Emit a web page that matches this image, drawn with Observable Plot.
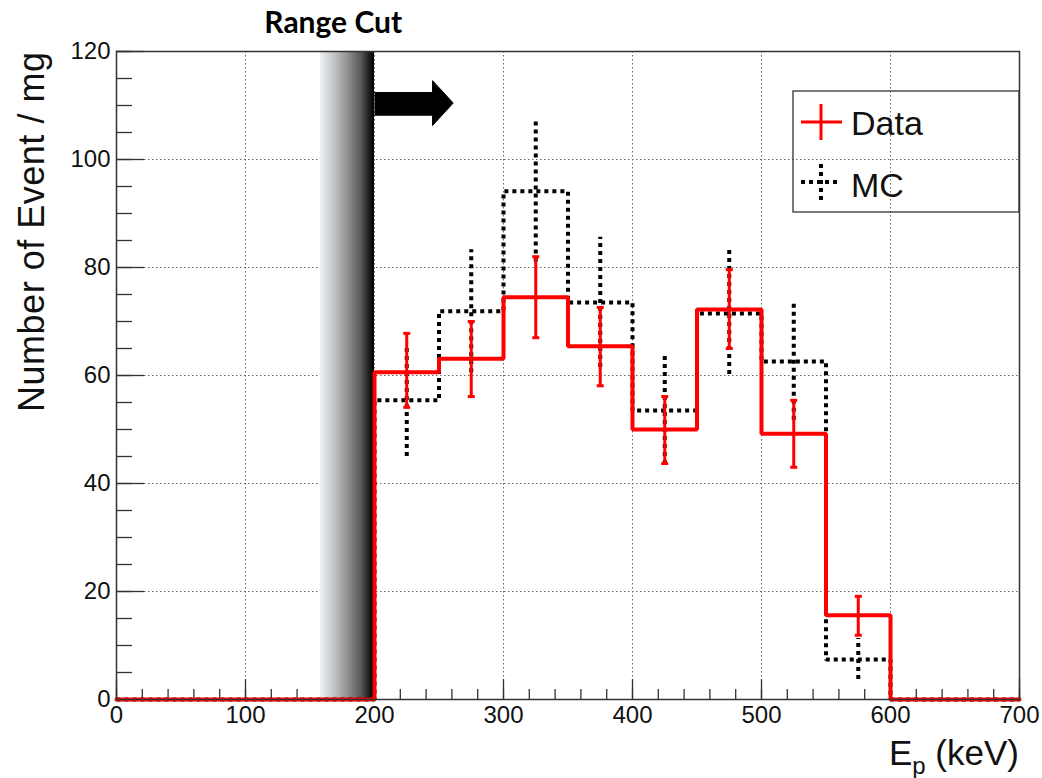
<!DOCTYPE html>
<html><head><meta charset="utf-8">
<script src="https://cdn.jsdelivr.net/npm/d3@7"></script>
<script src="https://cdn.jsdelivr.net/npm/@observablehq/plot@0.6"></script>
<style>
html,body{margin:0;padding:0;background:#fff;}
#chart{position:relative;width:1042px;height:778px;}
</style></head><body><div id="chart"></div>
<script>
// ---- data ----
const binLow = [0, 50, 100, 150, 200, 250, 300, 350, 400, 450, 500, 550, 600, 650];
const binWidth = 50;
const dataValues = [0, 0, 0, 0, 60.6, 63.1, 74.5, 65.4, 50.0, 72.2, 49.2, 15.6, 0, 0];
const dataErrLow  = [null, null, null, null, 54.1, 56.1, 67.0, 58.1, 43.7, 65.0, 43.0, 11.9, null, null];
const dataErrHigh = [null, null, null, null, 67.8, 70.0, 82.0, 72.6, 56.1, 79.6, 55.4, 19.1, null, null];
const mcValues  = [0, 0, 0, 0, 55.4, 71.9, 94.1, 73.5, 53.5, 71.5, 62.6, 7.4, 0, 0];
const mcErrLow  = [null, null, null, null, 45.0, 60.5, 81.0, 61.5, 43.5, 60.2, 51.7, 3.7, null, null];
const mcErrHigh = [null, null, null, null, 65.8, 83.3, 107.2, 85.6, 63.5, 83.3, 73.5, 11.3, null, null];
const xTicks = [0, 100, 200, 300, 400, 500, 600, 700];
const xMinorTicks = d3.range(0, 701, 20);
const yTicks = [0, 20, 40, 60, 80, 100, 120];
const yMinorTicks = d3.range(0, 121, 5);
// annotation (range cut)
const cutBand = [{x1: 158, x2: 200}];
const cutLabel = [{x: 168, text: "Range Cut"}];
const arrowStart = 200, arrowHeadBase = 245, arrowTip = 261;
const arrowShaft = [108.2, 112.4];
const arrowHead = [106.3, 114.6];
const legendItems = ["Data", "MC"];
const xTitle = ["E", "p", " (keV)"];
const yTitle = "Number of Event / mg";

// ---- derived tables ----
function stepPoints(vals) {
  const pts = [];
  binLow.forEach((lo, i) => { pts.push({x: lo, y: vals[i]}); pts.push({x: lo + binWidth, y: vals[i]}); });
  return pts;
}
function errTable(vals, lo, hi) {
  return binLow.map((b, i) => ({x: b + binWidth / 2, y: vals[i], lo: lo[i], hi: hi[i]})).filter(d => d.lo != null);
}
const dataStep = stepPoints(dataValues);
const mcStep = stepPoints(mcValues);
const dataErr = errTable(dataValues, dataErrLow, dataErrHigh);
const mcErr = errTable(mcValues, mcErrLow, mcErrHigh);
const arrowPoly = [
  {x: arrowStart, y: arrowShaft[0]}, {x: arrowHeadBase, y: arrowShaft[0]}, {x: arrowHeadBase, y: arrowHead[0]},
  {x: arrowTip, y: (arrowHead[0] + arrowHead[1]) / 2},
  {x: arrowHeadBase, y: arrowHead[1]}, {x: arrowHeadBase, y: arrowShaft[1]}, {x: arrowStart, y: arrowShaft[1]}
];
const capSymbol = {draw(ctx, size) { const r = Math.sqrt(size / Math.PI); ctx.moveTo(-r, 0); ctx.lineTo(r, 0); }};

const BAND_PLACEHOLDER = "#878786";
const font = "'Liberation Sans', Arial, Helvetica, sans-serif";
const plot = Plot.plot({
  width: 1042, height: 778,
  marginLeft: 116, marginRight: 23, marginTop: 51, marginBottom: 79,
  x: {domain: [0, 700]},
  y: {domain: [0, 120]},
  style: {fontFamily: font, background: "white", color: "#111"},
  marks: [
    Plot.gridX(xTicks, {stroke: "#666", strokeOpacity: 1, strokeWidth: 1, strokeDasharray: "1.5,2.5"}),
    Plot.gridY(yTicks, {stroke: "#666", strokeOpacity: 1, strokeWidth: 1, strokeDasharray: "1.5,2.5"}),
    // axis ticks (inside)
    Plot.axisX(xMinorTicks, {tickSize: -10, tickFormat: () => "", label: null, stroke: "#333", strokeWidth: 1.3}),
    Plot.axisX(xTicks, {tickSize: -20, tickFormat: () => "", label: null, stroke: "#333", strokeWidth: 1.3}),
    Plot.axisY(yMinorTicks, {tickSize: -16, tickFormat: () => "", label: null, stroke: "#333", strokeWidth: 1.3}),
    Plot.axisY(yTicks, {tickSize: -28, tickFormat: () => "", label: null, stroke: "#333", strokeWidth: 1.3}),
    Plot.axisX(xTicks, {tickSize: 0, tickPadding: 6, fontSize: 24, label: null, fill: "#111"}),
    Plot.axisY(yTicks, {tickSize: 0, tickPadding: 6, fontSize: 24, label: null, fill: "#111"}),
    // range cut band
    Plot.rect(cutBand, {x1: "x1", x2: "x2", y1: 0, y2: 120, fill: BAND_PLACEHOLDER}),
    // MC histogram (dotted)
    Plot.line(mcStep, {x: "x", y: "y", stroke: "black", strokeWidth: 4, strokeDasharray: "4,4", strokeLinecap: "butt", strokeLinejoin: "miter"}),
    Plot.ruleX(mcErr, {x: "x", y1: "lo", y2: "hi", stroke: "black", strokeWidth: 4, strokeDasharray: "4,4"}),
    // Data histogram
    Plot.line(dataStep, {x: "x", y: "y", stroke: "#ff0000", strokeWidth: 4, strokeLinejoin: "miter"}),
    Plot.ruleX(dataErr, {x: "x", y1: "lo", y2: "hi", stroke: "#ff0000", strokeWidth: 3}),
    Plot.dot(dataErr, {x: "x", y: "lo", symbol: capSymbol, r: 3.5, stroke: "#ff0000", strokeWidth: 3, fill: "none"}),
    Plot.dot(dataErr, {x: "x", y: "hi", symbol: capSymbol, r: 3.5, stroke: "#ff0000", strokeWidth: 3, fill: "none"}),
    Plot.frame({stroke: "#333", strokeWidth: 1.5}),
    // arrow
    Plot.line(arrowPoly, {x: "x", y: "y", fill: "black", stroke: "black", strokeWidth: 1}),
    Plot.text(cutLabel, {x: "x", text: "text", frameAnchor: "top", lineAnchor: "bottom", dy: -19,
      fontFamily: "Lato, 'Open Sans', sans-serif", fontWeight: "bold", fontSize: 30, fill: "black"})
  ]
});
document.getElementById("chart").appendChild(plot);

const svg = d3.select(plot);
const defs = svg.insert("defs", ":first-child");
const grad = defs.append("linearGradient").attr("id", "rcgrad").attr("x1", "0").attr("x2", "1").attr("y1", "0").attr("y2", "0");
[[0, "#eef1f4"], [0.25, "#c4c6c9"], [0.5, "#939393"], [0.75, "#5a5a5a"], [0.92, "#1a1a1a"], [1, "#000"]]
  .forEach(([o, c]) => grad.append("stop").attr("offset", o).attr("stop-color", c));
svg.selectAll("*").filter(function() {
  const f = this.getAttribute && this.getAttribute("fill");
  return f && f.toLowerCase() === BAND_PLACEHOLDER;
}).attr("fill", "url(#rcgrad)");

// axis titles
const xt = svg.append("text").attr("x", 1019).attr("y", 765).attr("text-anchor", "end")
  .attr("font-family", font).attr("font-size", 35).attr("fill", "#111");
xt.append("tspan").text(xTitle[0]);
xt.append("tspan").attr("font-size", 24).attr("dy", 9).text(xTitle[1]);
xt.append("tspan").attr("dy", -9).text(xTitle[2]);
svg.append("text").attr("transform", "translate(44,52) rotate(-90)").attr("text-anchor", "end")
  .attr("font-family", font).attr("font-size", 36).attr("textLength", 360).attr("lengthAdjust", "spacing")
  .attr("fill", "#111").text(yTitle);

// legend
const lg = svg.append("g").attr("text-anchor", "start");
lg.append("rect").attr("x", 793).attr("y", 91).attr("width", 226).attr("height", 121)
  .attr("fill", "none").attr("stroke", "#333").attr("stroke-width", 1.3);
lg.append("line").attr("x1", 801).attr("x2", 842).attr("y1", 122).attr("y2", 122).attr("stroke", "#ff0000").attr("stroke-width", 3);
lg.append("line").attr("x1", 821).attr("x2", 821).attr("y1", 104).attr("y2", 140).attr("stroke", "#ff0000").attr("stroke-width", 3);
lg.append("line").attr("x1", 801).attr("x2", 840).attr("y1", 182).attr("y2", 182).attr("stroke", "black").attr("stroke-width", 4).attr("stroke-dasharray", "4,4");
lg.append("line").attr("x1", 821).attr("x2", 821).attr("y1", 164).attr("y2", 202).attr("stroke", "black").attr("stroke-width", 4).attr("stroke-dasharray", "4,4");
lg.append("text").attr("x", 851).attr("y", 135).attr("text-anchor", "start").attr("font-family", font).attr("font-size", 34).attr("fill", "#111").text(legendItems[0]);
lg.append("text").attr("x", 851).attr("y", 197).attr("text-anchor", "start").attr("font-family", font).attr("font-size", 34).attr("fill", "#111").text(legendItems[1]);
</script></body></html>
